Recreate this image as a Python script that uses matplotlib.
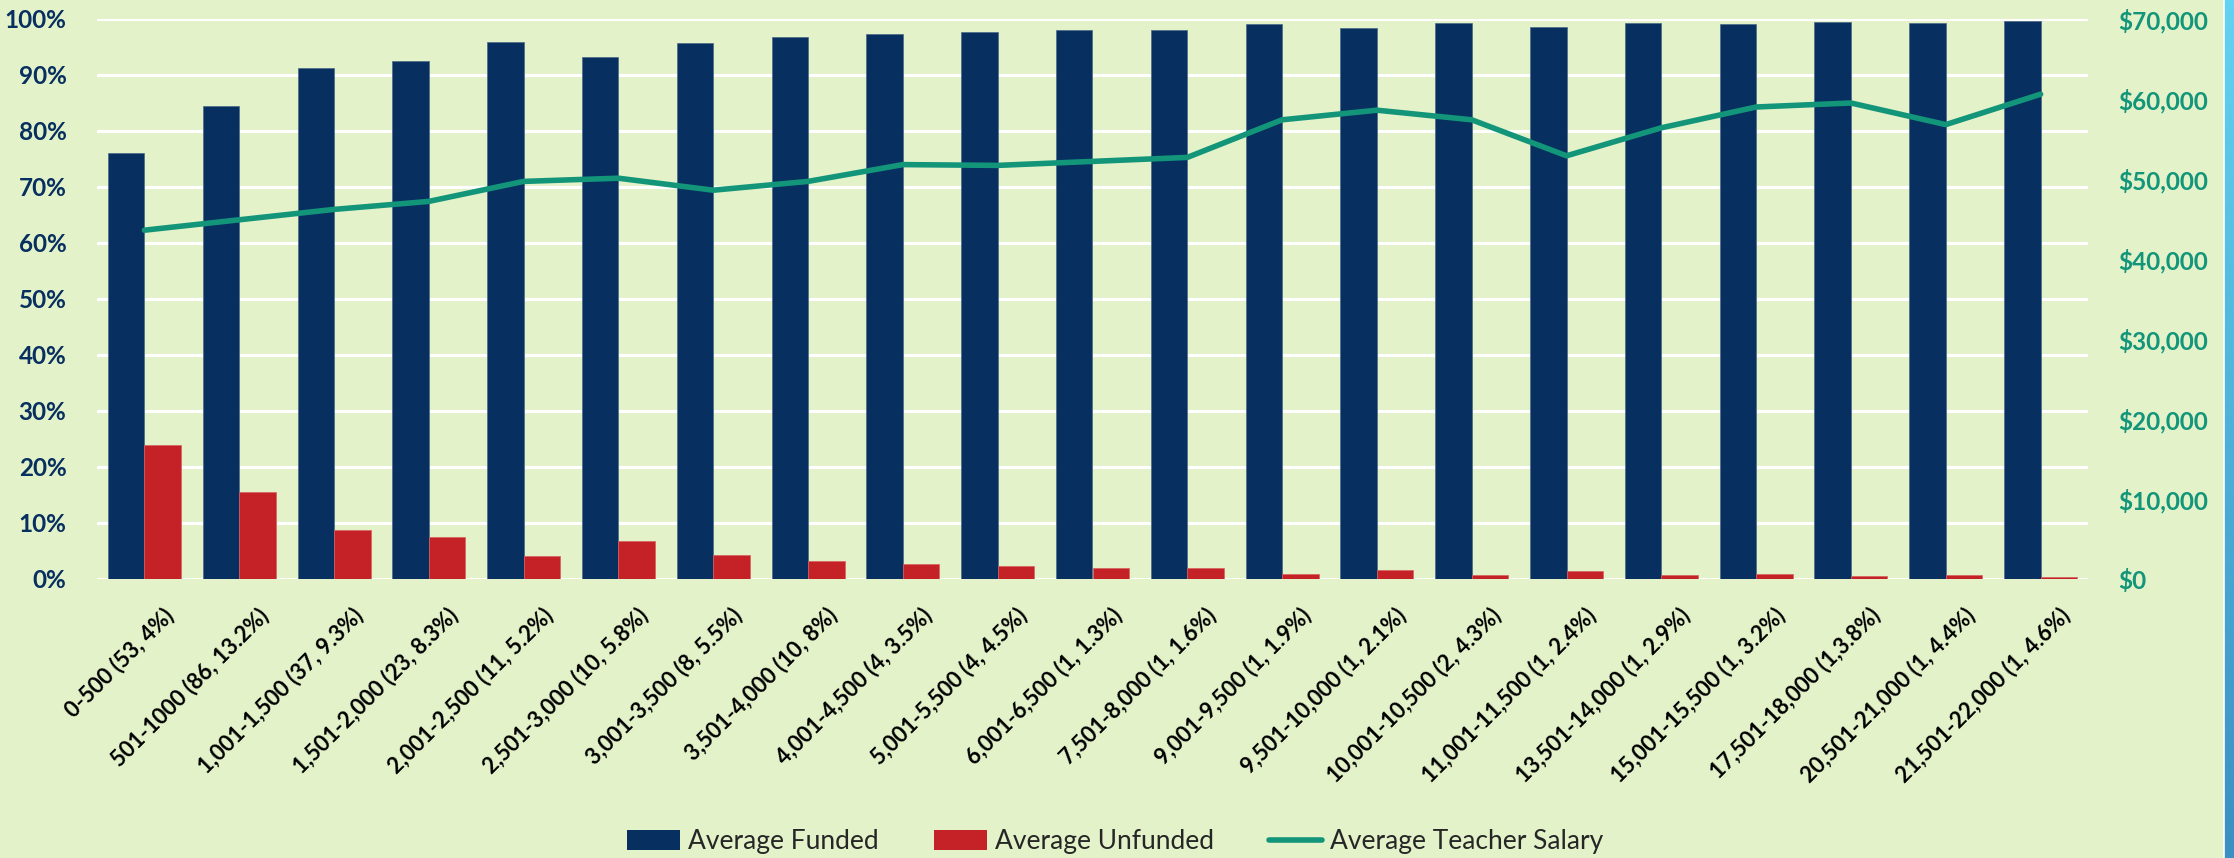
import numpy as np
import matplotlib
matplotlib.use("Agg")
import matplotlib.pyplot as plt
from matplotlib.lines import Line2D
from matplotlib.patches import Patch
from matplotlib.ticker import FuncFormatter

# data
categories = ["0-500 (53, 4%)", "501-1000 (86, 13.2%)", "1,001-1,500 (37, 9.3%)",
              "1,501-2,000 (23, 8.3%)", "2,001-2,500 (11, 5.2%)", "2,501-3,000 (10, 5.8%)",
              "3,001-3,500 (8, 5.5%)", "3,501-4,000 (10, 8%)", "4,001-4,500 (4, 3.5%)",
              "5,001-5,500 (4, 4.5%)", "6,001-6,500 (1, 1.3%)", "7,501-8,000 (1, 1.6%)",
              "9,001-9,500 (1, 1.9%)", "9,501-10,000 (1, 2.1%)", "10,001-10,500 (2, 4.3%)",
              "11,001-11,500 (1, 2.4%)", "13,501-14,000 (1, 2.9%)", "15,001-15,500 (1, 3.2%)",
              "17,501-18,000 (1,3.8%)", "20,501-21,000 (1, 4.4%)", "21,501-22,000 (1, 4.6%)"]
unfunded = [24.0, 15.6, 8.7, 7.5, 4.1, 6.7, 4.2, 3.2, 2.6, 2.3, 1.9, 2.0,
            0.9, 1.6, 0.7, 1.4, 0.7, 0.9, 0.5, 0.7, 0.35]
funded = [76.0, 84.4, 91.3, 92.5, 95.9, 93.3, 95.8, 96.8, 97.4, 97.7, 98.1, 98.0,
          99.1, 98.4, 99.3, 98.6, 99.3, 99.1, 99.5, 99.3, 99.65]
salary = [43600, 44900, 46200, 47200, 49700, 50100, 48600, 49700, 51800, 51700,
          52200, 52700, 57400, 58600, 57400, 52900, 56400, 59000, 59500, 56800, 60600]

bg = "#e3f2c9"
navy = "#072f5f"
red = "#c52227"
teal = "#13957a"

plt.rcParams["font.family"] = ["Lato", "DejaVu Sans"]

fig = plt.figure(figsize=(22.34, 8.58), dpi=100, facecolor=bg)
ax = fig.add_axes([97 / 2234, 1 - 579 / 858, (2088 - 97) / 2234, 560 / 858])
ax.set_facecolor(bg)

x = np.arange(len(categories))
w = 0.385
ax.bar(x - w / 2, funded, w, color=navy, edgecolor="#4a6a8a", linewidth=0.5, zorder=3)
ax.bar(x + w / 2, unfunded, w, color=red, edgecolor="#d86060", linewidth=0.5, zorder=3)

ax.set_xlim(-0.5, len(categories) - 0.5)
ax.set_ylim(0, 100)
ax.set_yticks(np.arange(0, 101, 10))
ax.yaxis.set_major_formatter(FuncFormatter(lambda v, p: f"{v:.0f}%"))
ax.grid(axis="y", color="white", linewidth=2.2, zorder=0)
ax.set_axisbelow(True)
for s in ax.spines.values():
    s.set_visible(False)
ax.tick_params(axis="y", length=0, pad=22, labelsize=17.5, labelcolor=navy)
for t in ax.get_yticklabels():
    t.set_fontweight("bold")

ax.set_xticks(x)
ax.set_xticklabels(categories, rotation=45, ha="right", rotation_mode="anchor",
                   fontsize=15.8, fontweight="bold", color="black")
ax.tick_params(axis="x", length=0, pad=18)
for t in ax.get_xticklabels():
    t.set_transform(t.get_transform() + matplotlib.transforms.ScaledTranslation(0.18, 0, fig.dpi_scale_trans))

ax2 = ax.twinx()
ax2.plot(x, salary, color=teal, linewidth=4, solid_capstyle="round", zorder=4)
ax2.set_ylim(0, 70000)
ax2.set_yticks(np.arange(0, 70001, 10000))
ax2.yaxis.set_major_formatter(FuncFormatter(lambda v, p: f"${v:,.0f}"))
ax2.tick_params(axis="y", length=0, pad=22, labelsize=17.5, labelcolor=teal)
for t in ax2.get_yticklabels():
    t.set_fontweight("bold")
for s in ax2.spines.values():
    s.set_visible(False)

handles = [Patch(facecolor=navy, label="Average Funded"),
           Patch(facecolor=red, label="Average Unfunded"),
           Line2D([0], [0], color=teal, linewidth=4, solid_capstyle="round", label="Average Teacher Salary")]
fig.legend(handles=handles, loc="center", bbox_to_anchor=(1115 / 2234, 1 - 842 / 858),
           ncol=3, frameon=False, handlelength=2.0, handleheight=0.8, handletextpad=0.3,
           columnspacing=2.1, labelcolor="#262626",
           prop={"family": ["Lato", "DejaVu Sans"], "size": 19, "weight": "normal"})

# blue decorative strip at the right edge
strip = fig.add_axes([2224 / 2234, 0, 10 / 2234, 1])
grad = np.linspace(0, 1, 256).reshape(-1, 1)
strip.imshow(grad, aspect="auto", cmap=matplotlib.colors.LinearSegmentedColormap.from_list(
    "s", ["#62d3f0", "#3b8fc2"]), extent=[0, 1, 0, 1])
strip.axis("off")
fig.add_artist(Line2D([2223.5 / 2234] * 2, [0, 1], color="white", linewidth=1.2))

fig.savefig("out.png", dpi=100, facecolor=bg)
